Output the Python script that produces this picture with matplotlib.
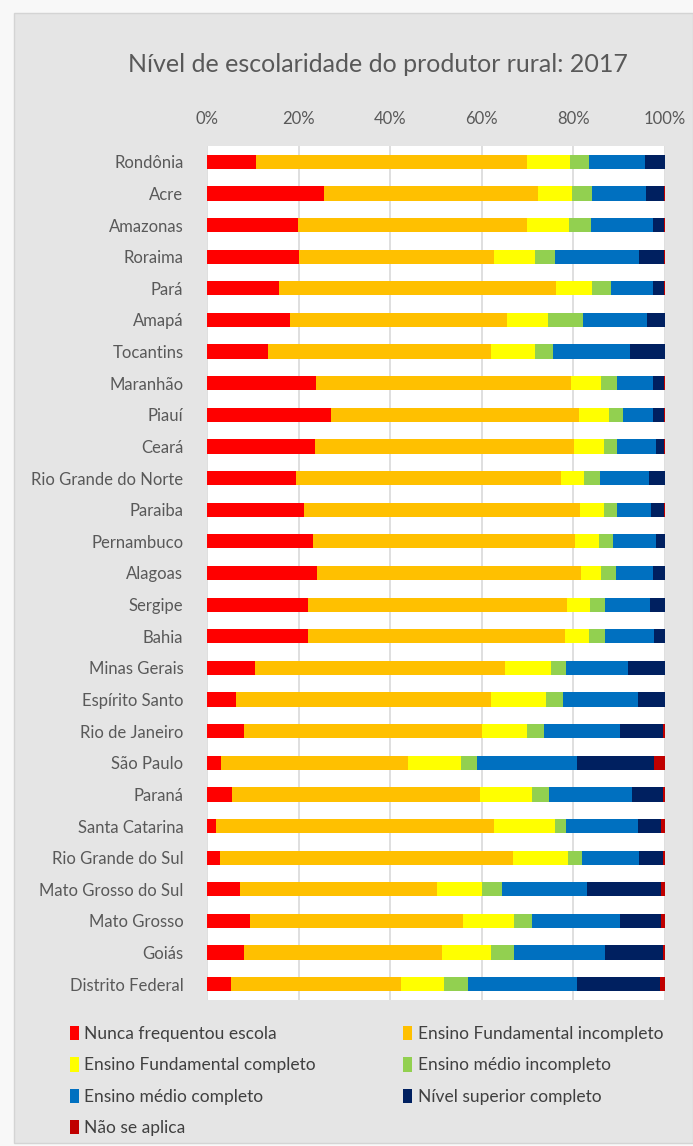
import matplotlib
matplotlib.use("Agg")
import matplotlib.pyplot as plt
from matplotlib.patches import Patch, Rectangle
from matplotlib.ticker import PercentFormatter
import numpy as np

plt.rcParams["font.family"] = ["Lato", "DejaVu Sans"]

estados = [
    "Rondônia", "Acre", "Amazonas", "Roraima", "Pará", "Amapá", "Tocantins",
    "Maranhão", "Piauí", "Ceará", "Rio Grande do Norte", "Paraiba",
    "Pernambuco", "Alagoas", "Sergipe", "Bahia", "Minas Gerais",
    "Espírito Santo", "Rio de Janeiro", "São Paulo", "Paraná",
    "Santa Catarina", "Rio Grande do Sul", "Mato Grosso do Sul",
    "Mato Grosso", "Goiás", "Distrito Federal",
]

nunca = [10.6, 25.6, 20.0, 20.0, 15.9, 18.2, 13.4, 24.0, 27.2, 23.7, 19.4, 21.4,
         23.1, 24.0, 22.1, 22.1, 10.4, 6.3, 8.0, 3.1, 5.5, 2.0, 2.8, 7.3, 9.3, 8.0, 5.2]
fund_inc = [59.3, 46.8, 50.2, 42.7, 60.6, 47.4, 48.5, 56.0, 54.5, 57.0, 57.8, 60.6,
            57.2, 57.7, 56.4, 56.1, 54.7, 55.6, 52.0, 40.9, 54.2, 60.7, 64.0, 43.0, 46.7, 43.4, 37.2]
fund_comp = [9.3, 7.5, 9.4, 8.9, 7.9, 8.8, 9.7, 6.5, 6.5, 6.4, 5.1, 5.1,
             5.2, 4.4, 5.2, 5.2, 10.0, 12.2, 9.9, 11.5, 11.3, 13.4, 12.1, 9.7, 11.0, 10.6, 9.3]
medio_inc = [4.2, 4.5, 4.8, 4.5, 4.2, 7.6, 3.9, 3.5, 3.1, 2.9, 3.5, 2.9,
             3.1, 3.1, 3.1, 3.4, 3.2, 3.7, 3.8, 3.5, 3.8, 2.4, 3.1, 4.5, 4.0, 5.0, 5.3]
medio_comp = [12.3, 11.8, 13.5, 18.3, 9.3, 14.1, 16.9, 7.9, 6.6, 8.7, 10.7, 7.6,
              9.5, 8.1, 10.0, 10.8, 13.7, 16.3, 16.6, 21.8, 18.0, 15.6, 12.4, 18.5, 19.3, 19.9, 23.8]
superior = [4.2, 3.8, 2.4, 5.5, 2.3, 3.8, 7.5, 2.4, 2.4, 1.6, 3.4, 2.7,
            1.8, 2.6, 3.1, 2.3, 7.9, 5.8, 9.3, 17.0, 6.8, 5.1, 5.2, 16.2, 8.9, 12.7, 18.1]
nao_aplica = [0.1, 0.3, 0.3, 0.2, 0.3, 0.1, 0.1, 0.3, 0.3, 0.3, 0.1, 0.3,
              0.1, 0.1, 0.1, 0.1, 0.1, 0.1, 0.5, 2.3, 0.5, 0.9, 0.5, 0.9, 0.9, 0.5, 1.1]

series = [
    ("Nunca frequentou escola", nunca, "#FF0000"),
    ("Ensino Fundamental incompleto", fund_inc, "#FFC000"),
    ("Ensino Fundamental completo", fund_comp, "#FFFF00"),
    ("Ensino médio incompleto", medio_inc, "#92D050"),
    ("Ensino médio completo", medio_comp, "#0070C0"),
    ("Nível superior completo", superior, "#002060"),
    ("Não se aplica", nao_aplica, "#C00000"),
]

TEXT = "#595959"

# gráfico 100% empilhado: cada linha normalizada pelo total
vals = np.array([s[1] for s in series], dtype=float)
vals = vals / vals.sum(axis=0)

fig = plt.figure(figsize=(6.93, 11.46), dpi=100)
fig.patch.set_facecolor("#f8f8f8")
# painel cinza atrás de tudo
fig.patches.append(Rectangle((14 / 693, 3 / 1146), 1 - 14 / 693, 1 - 16 / 1146,
                             transform=fig.transFigure, facecolor="#e5e5e5",
                             edgecolor="#d4d4d4", linewidth=1, zorder=-10))

ax = fig.add_axes([207 / 693, 1 - 1000 / 1146, 458 / 693, 854 / 1146])
ax.set_facecolor("white")

y = np.arange(len(estados))
left = np.zeros(len(estados))
handles = []
for (label, _, color), v in zip(series, vals):
    ax.barh(y, v, left=left, height=0.45, color=color, linewidth=0, zorder=3)
    left += v
    handles.append(Patch(facecolor=color, label=label))

ax.set_xlim(0, 1)
ax.set_ylim(len(estados) - 0.5, -0.5)
ax.set_yticks(y)
ax.set_yticklabels(estados)
ax.set_xticks(np.linspace(0, 1, 6))
ax.xaxis.set_major_formatter(PercentFormatter(1.0, decimals=0))
ax.xaxis.tick_top()
ax.tick_params(axis="both", length=0, colors=TEXT, labelsize=12)
ax.tick_params(axis="y", pad=17)
ax.tick_params(axis="x", pad=14)
ax.grid(axis="x", color="#d9d9d9", linewidth=1.2, zorder=0)
for s in ax.spines.values():
    s.set_visible(False)

fig.text(378 / 693, 1 - 64 / 1146, "Nível de escolaridade do produtor rural: 2017",
         ha="center", va="center", fontsize=18, color=TEXT)

# ordem por linhas como no Excel (legend preenche por colunas)
order = [0, 2, 4, 6, 1, 3, 5]
fig.legend([handles[i] for i in order], [series[i][0] for i in order],
           ncol=2, loc="upper left", bbox_to_anchor=(54 / 693, 1 - 1010 / 1146),
           frameon=False, fontsize=12.5, labelcolor="#404040",
           handlelength=0.55, handleheight=0.9, handletextpad=0.3,
           columnspacing=5.0, labelspacing=0.88)

fig.savefig("out.png", facecolor=fig.get_facecolor())
